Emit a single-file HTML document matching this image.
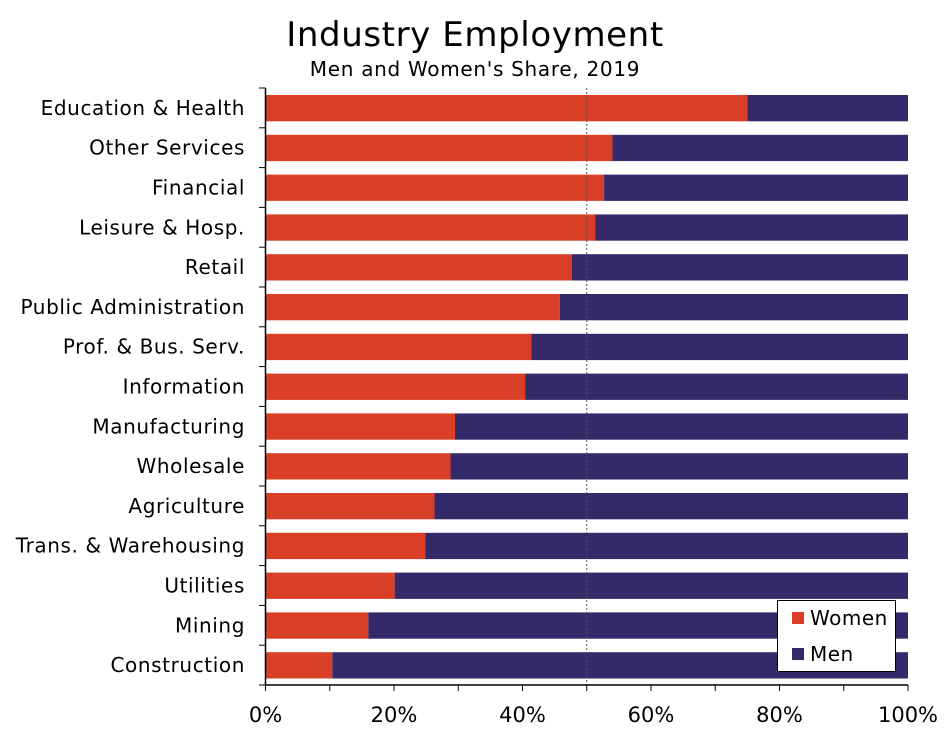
<!DOCTYPE html>
<html><head><meta charset="utf-8"><style>
body{margin:0;background:#fff;}
svg text{font-family:"DejaVu Sans","Liberation Sans",sans-serif;fill:#000;}
</style></head><body>
<svg id="chart" width="947" height="727" xmlns="http://www.w3.org/2000/svg">
<text x="475" y="46" font-size="34" letter-spacing="0.6" text-anchor="middle">Industry Employment</text>
<text x="475" y="76" font-size="20" letter-spacing="0.7" text-anchor="middle">Men and Women's Share, 2019</text>
<g id="bars"></g><g id="axes"></g>
<g>
<rect x="777.5" y="600.5" width="118" height="71" fill="#fff" stroke="#000"/>
<rect x="792" y="612" width="12" height="12" fill="#d93f27"/>
<text x="810" y="625" font-size="20" letter-spacing="0.5">Women</text>
<rect x="792" y="648" width="12" height="12" fill="#352a69"/>
<text x="810" y="661" font-size="20" letter-spacing="0.5">Men</text>
</g>
</svg>
<script>
const categories=["Education & Health","Other Services","Financial","Leisure & Hosp.","Retail","Public Administration","Prof. & Bus. Serv.","Information","Manufacturing","Wholesale","Agriculture","Trans. & Warehousing","Utilities","Mining","Construction"];
const women=[75,54,52.7,51.3,47.7,45.8,41.4,40.4,29.5,28.8,26.3,24.9,20.1,16,10.4];
const xTicks=[0,20,40,60,80,100];
const NS="http://www.w3.org/2000/svg";
const x0=265.5,x1=908,yTop=88,yBot=685,rowH=(yBot-yTop)/categories.length;
const xs=v=>x0+(x1-x0)*v/100;
const ys=i=>yTop+i*rowH;
function mk(tag,attrs,parent){const e=document.createElementNS(NS,tag);for(const k in attrs)e.setAttribute(k,attrs[k]);parent.appendChild(e);return e;}
const bars=document.getElementById('bars'),axes=document.getElementById('axes');
categories.forEach((c,i)=>{
  const y=ys(i)+7,h=rowH-13.5;
  const w=mk('rect',{x:xs(0),y:y,width:xs(women[i])-xs(0),height:h,fill:'#d93f27'},bars);
  
  
  const m=mk('rect',{x:xs(women[i]),y:y,width:xs(100)-xs(women[i]),height:h,fill:'#352a69'},bars);
  
  
  const t=mk('text',{x:245,y:ys(i)+rowH/2+7,'font-size':20,'letter-spacing':0.6,'text-anchor':'end'},axes);
  t.textContent=c;
  
  
});
for(let i=0;i<=categories.length;i++){
  const tk=mk('line',{x1:259,x2:x0,y1:ys(i),y2:ys(i),stroke:'#000'},axes);
  
  
}
const ref=mk('line',{x1:xs(50),x2:xs(50),y1:yTop,y2:yBot,stroke:'#555','stroke-dasharray':'2,2'},bars);


const ya=mk('line',{x1:x0,x2:x0,y1:yTop,y2:yBot,stroke:'#000','stroke-width':1.5},axes);


const xa=mk('line',{x1:x0,x2:x1,y1:yBot,y2:yBot,stroke:'#000','stroke-width':1.5},axes);


for(let v=0;v<=100;v+=10){
  const tk=mk('line',{x1:xs(v),x2:xs(v),y1:yBot,y2:yBot+6,stroke:'#000'},axes);
  
  
}
xTicks.forEach(v=>{
  const t=mk('text',{x:xs(v),y:722,'font-size':21,'text-anchor':'middle'},axes);
  t.textContent=v+'%';
  
  
});
</script>
</body></html>
